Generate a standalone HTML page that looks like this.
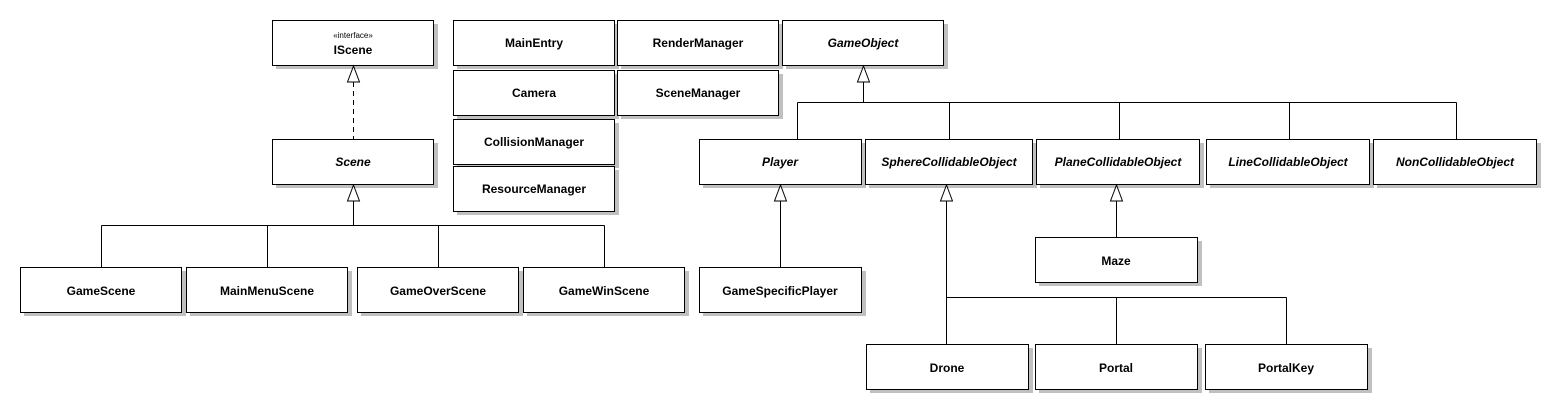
<!DOCTYPE html>
<html><head><meta charset="utf-8"><style>
html,body{margin:0;padding:0;background:#fff;}
svg{display:block}
text{font-family:"Liberation Sans",Arial,sans-serif;font-size:12px;font-weight:bold;fill:#000;text-anchor:middle}
.i{font-style:italic}
.b{fill:#fff;stroke:#000;stroke-width:1}
.s{fill:#c0c0c0}
.l{stroke:#000;stroke-width:1;fill:none}
.a{fill:#fff;stroke:#000;stroke-width:1}
</style></head><body>
<svg width="1562" height="414" viewBox="0 0 1562 414" xmlns="http://www.w3.org/2000/svg">
<g id="boxes"></g>
<!-- boxes: shadow then box -->
<g>
<rect class="s" x="276" y="24" width="162" height="45"/><rect class="b" x="272.5" y="20.5" width="161" height="45"/>
<text x="353" y="38" style="font-size:8px;font-weight:normal">«interface»</text><text x="353" y="54">IScene</text>

<rect class="s" x="457" y="24" width="162" height="45"/><rect class="b" x="453.5" y="20.5" width="161" height="45"/><text x="534" y="47">MainEntry</text>
<rect class="s" x="621" y="24" width="162" height="45"/><rect class="b" x="617.5" y="20.5" width="161" height="45"/><text x="698" y="47">RenderManager</text>
<rect class="s" x="786" y="24" width="162" height="45"/><rect class="b" x="782.5" y="20.5" width="161" height="45"/><text x="863" y="47" class="i">GameObject</text>

<rect class="s" x="457" y="74" width="162" height="45"/><rect class="b" x="453.5" y="70.5" width="161" height="45"/><text x="534" y="97">Camera</text>
<rect class="s" x="621" y="74" width="162" height="45"/><rect class="b" x="617.5" y="70.5" width="161" height="45"/><text x="698" y="97">SceneManager</text>
<rect class="s" x="457" y="123" width="162" height="45"/><rect class="b" x="453.5" y="119.5" width="161" height="45"/><text x="534" y="146">CollisionManager</text>
<rect class="s" x="457" y="170" width="162" height="45"/><rect class="b" x="453.5" y="166.5" width="161" height="45"/><text x="534" y="193">ResourceManager</text>

<rect class="s" x="276" y="143" width="162" height="45"/><rect class="b" x="272.5" y="139.5" width="161" height="45"/><text x="353" y="166" class="i">Scene</text>

<rect class="s" x="24" y="271" width="162" height="45"/><rect class="b" x="20.5" y="267.5" width="161" height="45"/><text x="101" y="295">GameScene</text>
<rect class="s" x="190" y="271" width="162" height="45"/><rect class="b" x="186.5" y="267.5" width="161" height="45"/><text x="267" y="295">MainMenuScene</text>
<rect class="s" x="361" y="271" width="162" height="45"/><rect class="b" x="357.5" y="267.5" width="161" height="45"/><text x="438" y="295">GameOverScene</text>
<rect class="s" x="527" y="271" width="162" height="45"/><rect class="b" x="523.5" y="267.5" width="161" height="45"/><text x="604" y="295">GameWinScene</text>

<rect class="s" x="703" y="143" width="163" height="45"/><rect class="b" x="699.5" y="139.5" width="162" height="45"/><text x="780" y="166" class="i">Player</text>
<rect class="s" x="869" y="143" width="168" height="45"/><rect class="b" x="865.5" y="139.5" width="167" height="45"/><text x="949" y="166" class="i">SphereCollidableObject</text>
<rect class="s" x="1040" y="143" width="164" height="45"/><rect class="b" x="1036.5" y="139.5" width="163" height="45"/><text x="1118" y="166" class="i">PlaneCollidableObject</text>
<rect class="s" x="1210" y="143" width="164" height="45"/><rect class="b" x="1206.5" y="139.5" width="163" height="45"/><text x="1288" y="166" class="i">LineCollidableObject</text>
<rect class="s" x="1377" y="143" width="164" height="45"/><rect class="b" x="1373.5" y="139.5" width="163" height="45"/><text x="1455" y="166" class="i">NonCollidableObject</text>

<rect class="s" x="703" y="271" width="163" height="45"/><rect class="b" x="699.5" y="267.5" width="162" height="45"/><text x="780" y="295">GameSpecificPlayer</text>
<rect class="s" x="1039" y="241" width="163" height="45"/><rect class="b" x="1035.5" y="237.5" width="162" height="45"/><text x="1116" y="265">Maze</text>

<rect class="s" x="870" y="348" width="163" height="45"/><rect class="b" x="866.5" y="344.5" width="162" height="45"/><text x="947" y="372">Drone</text>
<rect class="s" x="1039" y="348" width="163" height="45"/><rect class="b" x="1035.5" y="344.5" width="162" height="45"/><text x="1116" y="372">Portal</text>
<rect class="s" x="1209" y="348" width="163" height="45"/><rect class="b" x="1205.5" y="344.5" width="162" height="45"/><text x="1286" y="372">PortalKey</text>
</g>
<!-- connectors -->
<path class="l" d="M353.5 82 V139" stroke-dasharray="5,4"/>
<polygon class="a" points="353.5,66 347.5,82 359.5,82"/>

<path class="l" d="M353.5 201 V225.5 M101.5 225.5 H604.5 M101.5 225.5 V267 M267.5 225.5 V267 M438.5 225.5 V267 M604.5 225.5 V267"/>
<polygon class="a" points="353.5,185 347.5,201 359.5,201"/>

<path class="l" d="M863.5 82 V102.5 M797.5 102.5 H1456.5 M797.5 102.5 V139 M949.5 102.5 V139 M1119.5 102.5 V139 M1289.5 102.5 V139 M1456.5 102.5 V139"/>
<polygon class="a" points="863.5,66 857.5,82 869.5,82"/>

<path class="l" d="M780.5 201 V267"/>
<polygon class="a" points="780.5,185 774.5,201 786.5,201"/>

<path class="l" d="M946.5 201 V344 M946.5 297.5 H1286.5 M1116.5 297.5 V344 M1286.5 297.5 V344"/>
<polygon class="a" points="946.5,185 940.5,201 952.5,201"/>

<path class="l" d="M1116.5 201 V237"/>
<polygon class="a" points="1116.5,185 1110.5,201 1122.5,201"/>
</svg>
</body></html>
